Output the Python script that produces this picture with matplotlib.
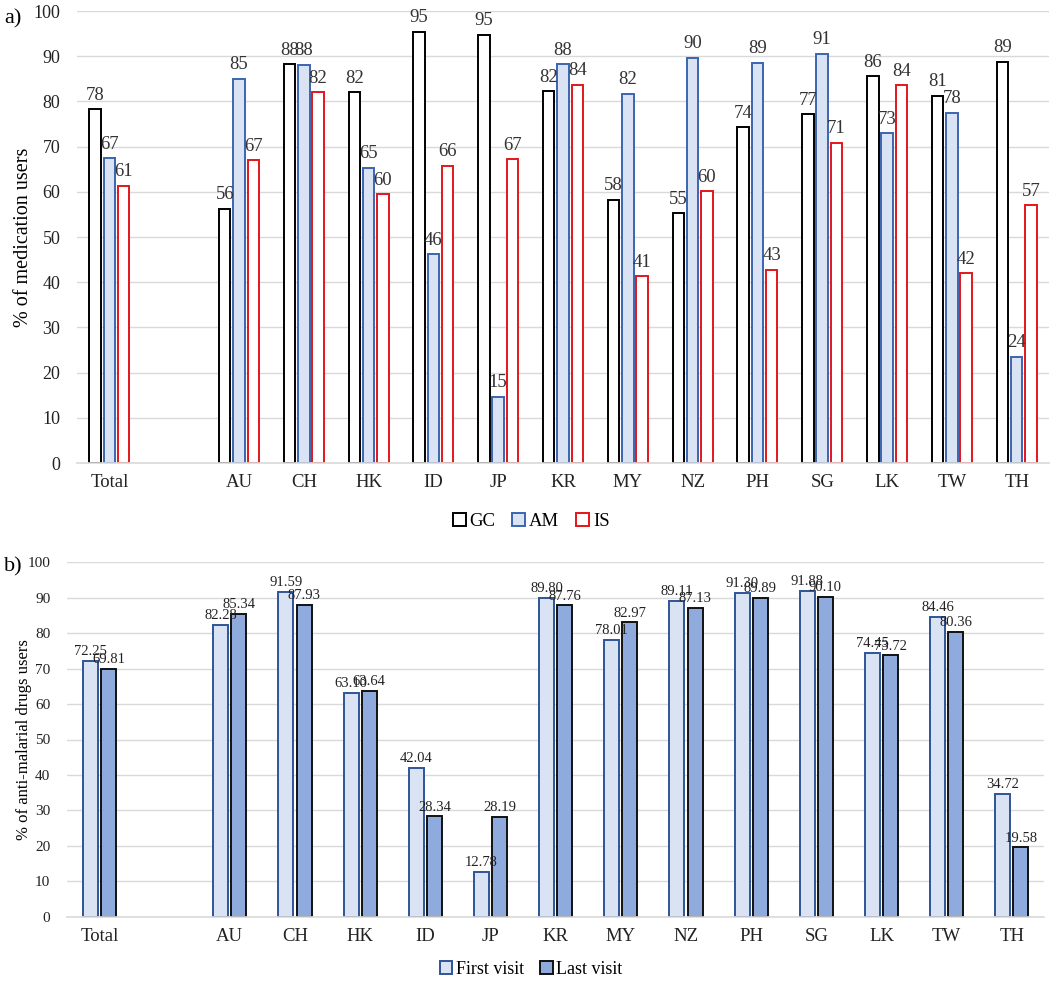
import numpy as np
import matplotlib
matplotlib.use("Agg")
from matplotlib import pyplot as plt

plt.rcParams['font.family'] = ['Liberation Serif', 'DejaVu Serif']

categories = ['Total', '', 'AU', 'CH', 'HK', 'ID', 'JP', 'KR', 'MY', 'NZ', 'PH', 'SG', 'LK', 'TW', 'TH']

# panel a) % of medication users
gc = [78.3, None, 56.3, 88.2, 82.0, 95.4, 94.8, 82.2, 58.2, 55.3, 74.3, 77.2, 85.6, 81.3, 88.8]
am = [67.4, None, 85.0, 88.1, 65.3, 46.2, 14.7, 88.2, 81.7, 89.7, 88.6, 90.6, 73.0, 77.5, 23.5]
is_ = [61.3, None, 67.0, 82.0, 59.5, 65.8, 67.2, 83.7, 41.3, 60.1, 42.8, 70.8, 83.6, 42.0, 57.0]

# panel b) % of anti-malarial drugs users
first_visit = [72.25, None, 82.28, 91.59, 63.10, 42.04, 12.78, 89.80, 78.01, 89.11, 91.30, 91.88, 74.45, 84.46, 34.72]
last_visit = [69.81, None, 85.34, 87.93, 63.64, 28.34, 28.19, 87.76, 82.97, 87.13, 89.89, 90.10, 73.72, 80.36, 19.58]

fig = plt.figure(figsize=(10.56, 9.86), dpi=100)
ax1 = fig.add_axes([0.0729, 0.5304, 0.9205, 0.4584])
ax2 = fig.add_axes([0.0634, 0.0700, 0.9256, 0.3600])

x = np.arange(len(categories))


def clean(vals):
    return [np.nan if v is None else v for v in vals]


def style_axis(ax, xsize, ysize):
    ax.set_xlim(-0.5, len(categories) - 0.5)
    ax.set_ylim(0, 100)
    ax.set_yticks(range(0, 101, 10))
    ax.grid(axis='y', color='#d9d9d9', linewidth=1.0)
    ax.set_axisbelow(True)
    for s in ['top', 'right', 'left']:
        ax.spines[s].set_visible(False)
    ax.spines['bottom'].set_color('#d9d9d9')
    ax.spines['bottom'].set_linewidth(1.2)
    ax.tick_params(length=0)
    ax.set_xticks(x)
    ax.set_xticklabels(categories, fontsize=xsize, color='#222222')
    ax.tick_params(axis='x', pad=8)
    ax.tick_params(axis='y', labelsize=ysize, pad=12, labelcolor='#222222')


# ---- panel a
w = 0.177
step = 0.22
series_a = [(gc, 'GC', 'white', 'black'),
            (am, 'AM', '#dae3f3', '#3c64b1'),
            (is_, 'IS', 'white', '#e3161b')]
handles = []
for i, (vals, lab, fc, ec) in enumerate(series_a):
    b = ax1.bar(x + (i - 1) * step, clean(vals), w, color=fc, edgecolor=ec,
                linewidth=1.4, label=lab)
    ax1.bar_label(b, labels=['' if v is None else '%.0f' % v for v in vals],
                  padding=4, fontsize=13.5, color='#333333')
    handles.append(b)
style_axis(ax1, 13.5, 13)
ax1.set_ylabel('% of medication users', fontsize=14.5, labelpad=0)
fig.legend(handles=handles, loc='center', bbox_to_anchor=(0.503, 0.471), ncol=3,
           frameon=False, fontsize=13.5, handlelength=0.7, handleheight=0.7,
           handletextpad=0.2, columnspacing=0.9)
fig.text(0.004, 0.981, 'a)', fontsize=16, va='center')

# ---- panel b
w2 = 0.23
step2 = 0.28
series_b = [(first_visit, 'First visit', '#dae3f3', '#2f5597'),
            (last_visit, 'Last visit', '#8faadc', '#111111')]
handles2 = []
for i, (vals, lab, fc, ec) in enumerate(series_b):
    b = ax2.bar(x + (i - 0.5) * step2, clean(vals), w2, color=fc, edgecolor=ec,
                linewidth=1.4, label=lab)
    ax2.bar_label(b, labels=['' if v is None else '%.2f' % v for v in vals],
                  padding=2, fontsize=10.5, color='#222222')
    handles2.append(b)
style_axis(ax2, 13.5, 11)
ax2.set_ylabel('% of anti-malarial drugs users', fontsize=12, labelpad=-3)
fig.legend(handles=handles2, loc='center', bbox_to_anchor=(0.503, 0.017), ncol=2,
           frameon=False, fontsize=13, handlelength=0.7, handleheight=0.7,
           handletextpad=0.2, columnspacing=0.9)
fig.text(0.004, 0.425, 'b)', fontsize=16, va='center')

fig.savefig('out.png', dpi=100)
